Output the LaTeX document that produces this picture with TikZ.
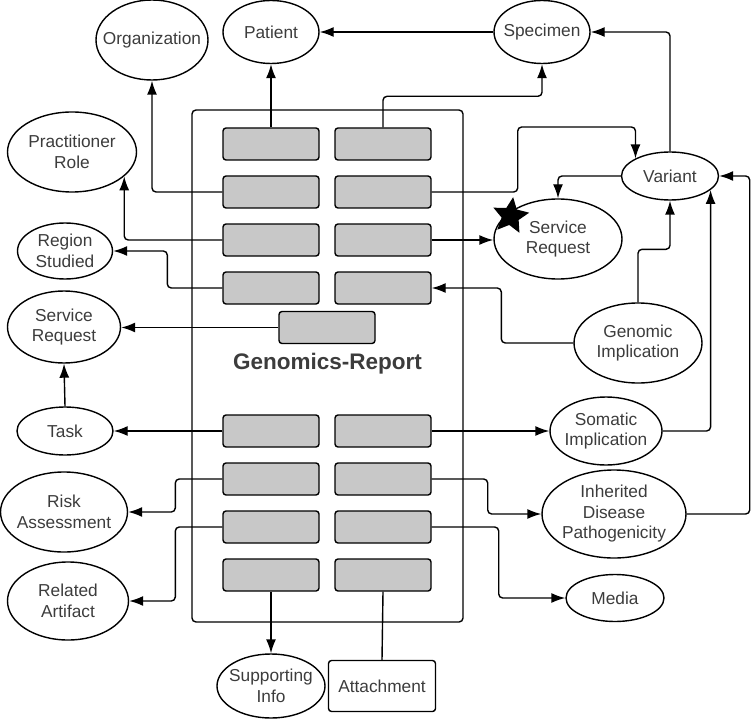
\documentclass[tikz,border=0pt]{standalone}
\usepackage{fontspec}
\setmainfont{Liberation Sans}
\usetikzlibrary{shapes.geometric,arrows.meta}
\definecolor{boxgrey}{HTML}{C8C8C8}
\definecolor{inkgrey}{HTML}{3C3C3C}

\begin{document}
\begin{tikzpicture}[x=1pt, y=-1pt, >={Latex[length=14pt,width=10pt]},
  line width=1.4pt, line join=round,
  element/.style={draw, fill=boxgrey, rounded corners=3pt,
    minimum width=96pt, minimum height=32pt, inner sep=0pt},
  resource/.style={draw, ellipse, align=center, text=inkgrey,
    inner xsep=-12pt, inner ysep=0pt, font=\fontsize{17.3}{20.5}\selectfont},
  link/.style={->, rounded corners=4pt}]

  \useasboundingbox (0,0) rectangle (751,719);

  % the report and its elements
  \node[draw, rounded corners=4pt, minimum width=271pt, minimum height=512pt,
        inner sep=0pt] (report) at (327.5,366) {};
  \foreach \n/\y in {1/144,2/192,3/240,4/288,5/431,6/479,7/527,8/575}{
    \node[element] (l\n) at (271,\y) {};
    \node[element] (r\n) at (383,\y) {};
  }
  \node[element] (mid) at (327,327.5) {};
  \node[anchor=base, text=inkgrey, font=\fontsize{22.5}{26}\bfseries\selectfont]
        (title) at (327.5,369) {Genomics-Report};

  % referenced resources
  \node[resource, minimum width=112pt, minimum height=80pt] (org) at (152,40) {Organization};
  \node[resource, minimum width=96pt, minimum height=63pt] (patient) at (271,32) {Patient};
  \node[resource, minimum width=96pt, minimum height=63pt] (specimen) at (542,32) {Specimen};
  \node[resource, minimum width=129pt, minimum height=80pt] (prole) at (72,152) {Practitioner\\Role};
  \node[resource, minimum width=95pt, minimum height=56pt] (region) at (65,251) {Region\\Studied};
  \node[resource, minimum width=97pt, minimum height=48pt] (variant) at (670,176) {Variant};
  \node[resource, minimum width=128pt, minimum height=80pt] (srvright) at (558,239) {Service\\Request};
  \node[resource, minimum width=113pt, minimum height=72pt] (srvleft) at (64,327) {Service\\Request};
  \node[resource, minimum width=96pt, minimum height=48pt] (task) at (65,431) {Task};
  \node[resource, minimum width=127pt, minimum height=80pt] (risk) at (64,512) {Risk\\Assessment};
  \node[resource, minimum width=121pt, minimum height=78pt] (artifact) at (68,601) {Related\\Artifact};
  \node[resource, minimum width=128pt, minimum height=80pt] (genomic) at (638,343) {Genomic\\Implication};
  \node[resource, minimum width=112pt, minimum height=68pt] (somatic) at (606,431) {Somatic\\Implication};
  \node[resource, minimum width=144pt, minimum height=88pt] (idp) at (614,514) {Inherited\\Disease\\Pathogenicity};
  \node[resource, minimum width=98pt, minimum height=47pt] (media) at (615,598) {Media};
  \node[resource, minimum width=108pt, minimum height=64pt] (support) at (271,686) {Supporting\\Info};
  \node[draw, rounded corners=3pt, minimum width=107pt, minimum height=51pt, inner sep=0pt,
        text=inkgrey, font=\fontsize{17.3}{20.5}\selectfont] (attach) at (382,686) {Attachment};

  % the star on the service request
  \node[star, star points=5, star point ratio=2.1, fill=black, minimum size=38pt,
        inner sep=0pt, rotate=-8] (flag) at (510.5,216) {};

  % upper links
  \draw[link] (l1.north) -- (patient.south);
  \draw[link] (r1.north) -- ++(0,-31) -| (specimen.south);
  \draw[link] (specimen.west) -- (patient.east);
  \draw[link] (variant.north) |- (specimen.east);
  \draw[link] (l2.west) -| (org.south);
  \draw[link] (r2.east) -- ++(86,0) -- ++(0,-65) -| (variant.153);
  \draw[link] (variant.west) -| (srvright.north);
  \draw[link] (l3.west) -| (prole.-25);
  \draw[link] (r3.east) -- (r3.east -| srvright.west);
  \draw[link] (l4.west) -- ++(-55,0) |- (region.east);
  \draw[link] (genomic.west) -- ++(-72,0) |- (r4.east);
  \draw[link] (genomic.north) -- ++(0,-53) -| (variant.south);
  \draw[link] (somatic.east) -| (variant.-19);
  \draw[link] (idp.east) -- ++(63,0) |- (variant.east);
  \draw[link] (mid.west) -- (mid.west -| srvleft.east);
  \draw[link] (task.north) -- (srvleft.south);

  % lower links
  \draw[link] (l5.west) -- (task.east);
  \draw[link] (r5.east) -- (somatic.west);
  \draw[link] (l6.west) -- ++(-47,0) |- (risk.east);
  \draw[link] (r6.east) -- ++(56,0) |- (idp.west);
  \draw[link] (l7.west) -- ++(-47,0) |- (artifact.east);
  \draw[link] (r7.east) -- ++(67,0) |- (media.west);
  \draw[link] (l8.south) -- (support.north);
  \draw (r8.south) -- (attach.north);

\end{tikzpicture}
\end{document}
